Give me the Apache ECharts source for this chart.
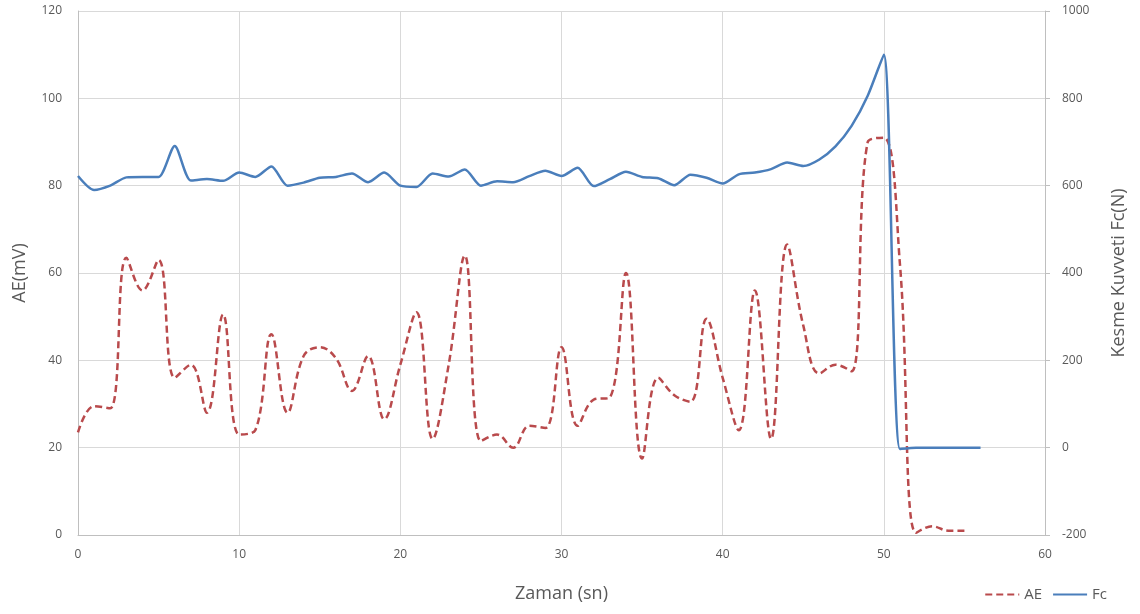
<!DOCTYPE html>
<html>
<head>
<meta charset="utf-8">
<script src="https://cdn.jsdelivr.net/npm/echarts@6/dist/echarts.min.js"></script>
<style>
html,body{margin:0;padding:0;background:#fff;}
#chart{width:1140px;height:614px;}
</style>
</head>
<body>
<div id="chart"></div>
<script>
var timeAE = [0,1,2,3,4,5,6,7,8,9,10,11,12,13,14,15,16,17,18,19,20,21,22,23,24,25,26,27,28,29,30,31,32,33,34,35,36,37,38,39,40,41,42,43,44,45,46,47,48,49,50,51,52,53,54,55];
var aeValues = [23.5,29.5,29,63.5,56,63,36,39,28,50.5,23,24,46,28,41,43,40.5,33,41,26.5,39,51,22,39,64,21.5,23,20,25,24.5,43,25,31,31.5,60,17.5,36,32,30.5,49.5,36,24,56,22,66.5,48,37,39,37.5,90,91,62,0.5,2,1,1];
var timeFc = [0,1,2,3,4,5,6,7,8,9,10,11,12,13,14,15,16,17,18,19,20,21,22,23,24,25,26,27,28,29,30,31,32,33,34,35,36,37,38,39,40,41,42,43,44,45,46,47,48,49,50,51,52,53,54,55,56];
var fcValues = [622,590,600,619,620,620,691,612,615,611,630,620,644,600,607,618,620,628,608,630,600,597,628,621,637,600,610,608,622,634,622,641,599,615,632,620,617,601,625,618,605,626,630,638,653,645,660,690,737,806,900,-3,0,0,0,0,0];
var xTicks = [0,10,20,30,40,50,60];
var leftTicks = [0,20,40,60,80,100,120];
var rightTicks = [-200,0,200,400,600,800,1000];

var aeData = timeAE.map(function(t,i){return [t, aeValues[i]];});
var fcData = timeFc.map(function(t,i){return [t, fcValues[i]];});

var textColor = '#595959';
var gridColor = '#d9d9d9';
var axisColor = '#bfbfbf';
var fontFam = '"Open Sans", "Liberation Sans", sans-serif';

var chart = echarts.init(document.getElementById('chart'), null, {renderer:'canvas'});
chart.setOption({
  animation: false,
  backgroundColor: '#ffffff',
  textStyle: {fontFamily: fontFam},
  grid: {left: 78, right: 95, top: 11, bottom: 79, containLabel: false},
  legend: {
    right: 28, top: 582,
    itemWidth: 34, itemHeight: 10, itemGap: 10,
    itemStyle: {opacity: 0},
    textStyle: {color: textColor, fontSize: 15, fontFamily: fontFam},
    data: ['AE','Fc']
  },
  xAxis: {
    type: 'value', min: xTicks[0], max: xTicks[xTicks.length-1], interval: 10,
    name: 'Zaman (sn)', nameLocation: 'middle', nameGap: 50,
    nameTextStyle: {color: textColor, fontSize: 18, fontFamily: fontFam},
    axisLine: {show: true, lineStyle: {color: axisColor, width: 1}},
    axisTick: {show: false},
    axisLabel: {color: textColor, fontSize: 12, margin: 14, fontFamily: fontFam},
    splitLine: {show: true, lineStyle: {color: gridColor, width: 1}}
  },
  yAxis: [{
    type: 'value', min: leftTicks[0], max: leftTicks[leftTicks.length-1], interval: 20,
    position: 'left',
    name: 'AE(mV)', nameLocation: 'middle', nameGap: 49, nameRotate: 90,
    nameTextStyle: {color: textColor, fontSize: 18, fontFamily: fontFam},
    axisLine: {show: true, lineStyle: {color: axisColor, width: 1}},
    axisTick: {show: false},
    axisLabel: {color: textColor, fontSize: 12, margin: 16, fontFamily: fontFam},
    splitLine: {show: true, lineStyle: {color: gridColor, width: 1}}
  },{
    type: 'value', min: rightTicks[0], max: rightTicks[rightTicks.length-1], interval: 200,
    position: 'right',
    name: 'Kesme Kuvveti Fc(N)', nameLocation: 'middle', nameGap: 65, nameRotate: 90,
    nameTextStyle: {color: textColor, fontSize: 18, fontFamily: fontFam},
    axisLine: {show: true, lineStyle: {color: axisColor, width: 1}},
    axisTick: {show: true, length: 5, lineStyle: {color: axisColor}},
    axisLabel: {color: textColor, fontSize: 12, margin: 17, fontFamily: fontFam,
      formatter: function(v){ return String(v); }},
    splitLine: {show: false}
  }],
  series: [{
    name: 'AE', type: 'line', yAxisIndex: 0, data: aeData,
    smooth: 0.4, symbol: 'none',
    lineStyle: {color: '#b94a4c', width: 2.5, type: [7,4]},
    itemStyle: {color: '#b94a4c'}
  },{
    name: 'Fc', type: 'line', yAxisIndex: 1, data: fcData,
    smooth: 0.25, symbol: 'none',
    lineStyle: {color: '#4a7ebb', width: 2.5},
    itemStyle: {color: '#4a7ebb'}
  }]
});
</script>
</body>
</html>
